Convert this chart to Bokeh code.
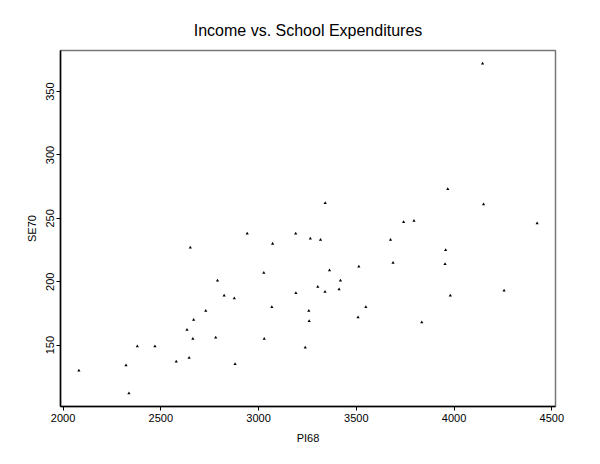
from bokeh.plotting import figure
from bokeh.models import ColumnDataSource, Range1d, FixedTicker
from bokeh.embed import file_html
from bokeh.resources import INLINE

# Per-capita personal income 1968 (PI68) and school expenditures 1970 (SE70)
pi68 = [2824, 3259, 3072, 3835, 3549, 4256, 4151, 3954, 3419, 3509, 3412, 3981,
        3675, 3363, 3341, 3265, 3257, 2730, 2876, 3239, 3303, 3795, 3742, 4425,
        3068, 2470, 2664, 2380, 2781, 3191, 2645, 2579, 2337, 2081, 2322, 2634,
        2880, 3029, 2942, 2668, 3190, 3340, 2651, 3027, 2790, 3957, 3688, 3317,
        3968, 4146, 3513]
se70 = [189, 169, 230, 168, 180, 193, 261, 214, 201, 172, 194, 189,
        233, 209, 262, 234, 177, 177, 187, 148, 196, 248, 247, 246,
        180, 149, 155, 149, 156, 191, 140, 137, 112, 130, 134, 162,
        135, 155, 238, 170, 238, 192, 227, 207, 201, 225, 215, 233,
        273, 372, 212]
x_ticks = [2000, 2500, 3000, 3500, 4000, 4500]
y_ticks = [150, 200, 250, 300, 350]

FONT = "Liberation Sans"

src = ColumnDataSource(data=dict(x=pi68, y=se70))

p = figure(output_backend="svg", toolbar_location=None,
           frame_width=495, frame_height=356,
           min_border_left=60, min_border_right=35,
           min_border_top=50, min_border_bottom=45,
           x_range=Range1d(1987, 4519), y_range=Range1d(101.6, 382.4),
           title="Income vs. School Expenditures")

p.title.text_font = FONT
p.title.text_font_size = "16px"
p.title.text_font_style = "normal"
p.title.align = "center"
p.title.text_color = "black"
p.title.standoff = 23

p.scatter("x", "y", source=src, marker="triangle", size=3.2,
          fill_color="black", line_color=None)

p.xgrid.visible = False
p.ygrid.visible = False
p.outline_line_color = "#777777"
p.outline_line_width = 1.5
p.background_fill_color = "white"
p.border_fill_color = "white"

p.xaxis.ticker = FixedTicker(ticks=x_ticks)
p.yaxis.ticker = FixedTicker(ticks=y_ticks)
p.xaxis.axis_label = "PI68"
p.yaxis.axis_label = "SE70"

for ax in (p.xaxis[0], p.yaxis[0]):
    ax.axis_line_color = "black"
    ax.axis_line_width = 1.5
    ax.major_tick_line_color = "black"
    ax.major_tick_out = 4
    ax.major_tick_in = 0
    ax.minor_tick_line_color = None
    ax.major_label_text_font = FONT
    ax.major_label_text_font_size = "11px"
    ax.major_label_text_color = "black"
    ax.axis_label_text_font = FONT
    ax.axis_label_text_font_size = "11px"
    ax.axis_label_text_font_style = "normal"
    ax.axis_label_text_color = "black"

p.xaxis.major_label_standoff = 3
p.xaxis.axis_label_standoff = 7
p.yaxis.major_label_orientation = "vertical"
p.yaxis.major_label_standoff = 2
p.yaxis.axis_label_standoff = 6

open("out.html", "w").write(file_html(p, INLINE))
